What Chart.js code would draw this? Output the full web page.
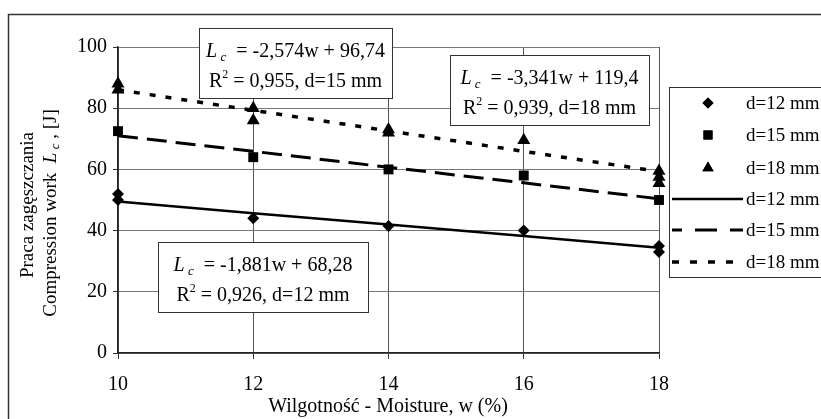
<!DOCTYPE html>
<html>
<head>
<meta charset="utf-8">
<script src="https://cdn.jsdelivr.net/npm/chart.js@4.4.0/dist/chart.umd.min.js"></script>
<style>
  body { margin: 0; background: #fff; }
  #wrap { width: 821px; height: 419px; }
</style>
</head>
<body>
<div id="wrap"><canvas id="c" width="821" height="419"></canvas></div>
<script>
'use strict';

// measured points, moisture w (%) -> compression work Lc (J)
var w12 = [10, 10, 12, 14, 16, 18, 18];
var lc12 = [52, 50, 44, 41.5, 40, 35, 33];
var w15 = [10, 12, 14, 16, 18];
var lc15 = [72.5, 64, 60, 58, 50];
var w18 = [10, 10, 12, 12, 14, 14, 16, 18, 18, 18];
var lc18 = [88, 86, 80, 76, 73, 72, 69.5, 59.5, 57.5, 55.5];

// trend lines
var trendW = [10, 12, 14, 16, 18];
var trend12 = [49.5, 45.7, 42.0, 38.2, 34.4];
var trend15 = [71.0, 65.9, 60.7, 55.6, 50.4];
var trend18 = [86.0, 79.3, 72.6, 65.9, 59.3];

var xTicks = [10, 12, 14, 16, 18];
var yTicks = [0, 20, 40, 60, 80, 100];

var serif = "'Liberation Serif', 'Times New Roman', serif";

function pts(xs, ys) {
  return xs.map((x, i) => ({ x: x, y: ys[i] }));
}

function richLine(ctx, parts, cx, baseY) {
  var total = 0;
  parts.forEach((p) => { ctx.font = p.font; p.w = ctx.measureText(p.t).width; total += p.w; });
  var x = cx - total / 2;
  ctx.textAlign = 'left';
  ctx.textBaseline = 'alphabetic';
  parts.forEach((p) => { ctx.font = p.font; ctx.fillText(p.t, x, baseY + (p.dy || 0)); x += p.w; });
}

function f(size, style) {
  return (style ? style + ' ' : '') + size + 'px ' + serif;
}

function eqBox(ctx, x, y, w, h, eq, r2) {
  ctx.save();
  ctx.fillStyle = '#fff';
  ctx.fillRect(x, y, w, h);
  ctx.strokeStyle = '#333';
  ctx.lineWidth = 1;
  ctx.strokeRect(x + 0.5, y + 0.5, w, h);
  ctx.fillStyle = '#000';
  var cx = x + w / 2;
  richLine(ctx, [
    { t: 'L', font: f(20, 'italic') },
    { t: ' c', font: f(13, 'italic'), dy: 4 },
    { t: '  = ' + eq, font: f(20) }
  ], cx, y + 29);
  richLine(ctx, [
    { t: 'R', font: f(20) },
    { t: '2', font: f(12), dy: -9 },
    { t: ' = ' + r2, font: f(20) }
  ], cx, y + 59);
  ctx.restore();
}

var decor = {
  id: 'decor',
  beforeDraw(chart) {
    var ctx = chart.ctx;
    ctx.save();
    ctx.fillStyle = '#fff';
    ctx.fillRect(0, 0, chart.width, chart.height);
    ctx.strokeStyle = '#333';
    ctx.lineWidth = 1.5;
    ctx.strokeRect(8.5, 14.5, 830, 420);
    ctx.restore();
  },
  afterDatasetsDraw(chart) {
    var ctx = chart.ctx;
    eqBox(ctx, 199, 28, 193, 70, '-2,574w + 96,74', '0,955, d=15 mm');
    eqBox(ctx, 450, 55, 199, 70, '-3,341w + 119,4', '0,939, d=18 mm');
    eqBox(ctx, 158, 242, 210, 70, '-1,881w + 68,28', '0,926, d=12 mm');

    // legend
    ctx.save();
    ctx.fillStyle = '#fff';
    ctx.fillRect(669, 87, 200, 190);
    ctx.strokeStyle = '#333';
    ctx.lineWidth = 1;
    ctx.strokeRect(669.5, 87.5, 200, 190);
    var rows = [103, 135, 168, 199, 230, 262];
    var names = ['d=12 mm', 'd=15 mm', 'd=18 mm', 'd=12 mm', 'd=15 mm', 'd=18 mm'];
    ctx.fillStyle = '#000';
    var s = ['rectRot', 'rect', 'triangle'];
    var r = [5.5, 6.4, 6.5];
    for (var i = 0; i < 3; i++) {
      Chart.helpers.drawPoint(ctx, { pointStyle: s[i], radius: r[i], borderWidth: 0, rotation: 0 }, 708, rows[i]);
      ctx.fill();
    }
    var dashes = [[], [22, 13], [7, 11]];
    var widths = [2.5, 3, 3.5];
    for (var j = 0; j < 3; j++) {
      ctx.beginPath();
      ctx.setLineDash(dashes[j]);
      ctx.lineDashOffset = j === 1 ? 12 : 0;
      ctx.lineWidth = widths[j];
      ctx.strokeStyle = '#000';
      ctx.moveTo(672, rows[j + 3]);
      ctx.lineTo(743, rows[j + 3]);
      ctx.stroke();
    }
    ctx.setLineDash([]);
    ctx.font = f(19);
    ctx.textAlign = 'left';
    ctx.textBaseline = 'middle';
    names.forEach((n, k) => ctx.fillText(n, 746, rows[k] + 1));
    ctx.restore();

    // axis titles
    ctx.save();
    ctx.fillStyle = '#000';
    richLine(ctx, [{ t: 'Wilgotność - Moisture, w (%)', font: f(20) }], 388, 412);
    ctx.translate(27, 205);
    ctx.rotate(-Math.PI / 2);
    richLine(ctx, [{ t: 'Praca zagęszczania', font: f(19) }], 0, 6);
    ctx.restore();
    ctx.save();
    ctx.fillStyle = '#000';
    ctx.translate(50, 213);
    ctx.rotate(-Math.PI / 2);
    richLine(ctx, [
      { t: 'Compression work  ', font: f(19) },
      { t: 'L', font: f(19, 'italic') },
      { t: ' c', font: f(13, 'italic'), dy: 3 },
      { t: ' , [J]', font: f(19) }
    ], 0, 6);
    ctx.restore();
  }
};

var ctx = document.getElementById('c').getContext('2d');
new Chart(ctx, {
  type: 'scatter',
  data: {
    datasets: [
      { label: 'd=12 mm', data: pts(w12, lc12), pointStyle: 'rectRot', radius: 6, backgroundColor: '#000', borderWidth: 0, clip: false },
      { label: 'd=15 mm', data: pts(w15, lc15), pointStyle: 'rect', radius: 7, backgroundColor: '#000', borderWidth: 0, clip: false },
      { label: 'd=18 mm', data: pts(w18, lc18), pointStyle: 'triangle', radius: 7.5, backgroundColor: '#000', borderWidth: 0, clip: false },
      { label: 'd=12 mm', type: 'line', data: pts(trendW, trend12), borderColor: '#000', borderWidth: 2.5, pointRadius: 0, fill: false, clip: false },
      { label: 'd=15 mm', type: 'line', data: pts(trendW, trend15), borderColor: '#000', borderWidth: 3, borderDash: [20, 9], pointRadius: 0, fill: false, clip: false },
      { label: 'd=18 mm', type: 'line', data: pts(trendW, trend18), borderColor: '#000', borderWidth: 3.5, borderDash: [6, 10], pointRadius: 0, fill: false, clip: false }
    ]
  },
  options: {
    responsive: false,
    animation: false,
    events: [],
    layout: { padding: { top: 47, right: 162, left: 0, bottom: 0 } },
    plugins: { legend: { display: false }, tooltip: { enabled: false } },
    scales: {
      x: {
        type: 'linear', min: 10, max: 18,
        afterBuildTicks: (s) => { s.ticks = xTicks.map((v) => ({ value: v })); },
        afterFit: (s) => { s.height = 66; },
        ticks: { color: '#000', font: { family: serif, size: 20 }, padding: 14 },
        grid: { color: '#555', lineWidth: 1, tickLength: 6, tickColor: '#333' },
        border: { color: '#222', width: 1.5 }
      },
      y: {
        min: 0, max: 100,
        afterBuildTicks: (s) => { s.ticks = yTicks.map((v) => ({ value: v })); },
        afterFit: (s) => { s.width = 118; },
        ticks: { color: '#000', font: { family: serif, size: 20 }, padding: 6 },
        grid: { color: '#777', lineWidth: 1, tickLength: 5, tickColor: '#333' },
        border: { color: '#222', width: 1.5 }
      }
    }
  },
  plugins: [decor]
});
</script>
</body>
</html>
